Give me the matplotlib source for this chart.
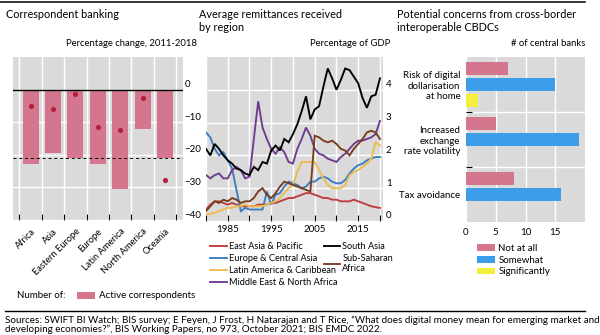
import matplotlib
matplotlib.use("Agg")
import matplotlib.pyplot as plt
from matplotlib.transforms import ScaledTranslation
from matplotlib.lines import Line2D
import numpy as np

plt.rcParams['font.family'] = ['Lato', 'DejaVu Sans']
plt.rcParams['axes.unicode_minus'] = True

# ---- Correspondent banking: percentage change 2011-2018 ----
regions = ["Africa", "Asia", "Eastern Europe", "Europe", "Latin America",
           "North America", "Oceania"]
active_correspondents = [-22.8, -19.3, -20.9, -22.8, -30.6, -12.0, -20.9]
corridors = [-5.0, -5.9, -1.4, -11.6, -12.4, -2.7, -27.7]
global_change = -21.0
pct_ticks = [-40, -30, -20, -10, 0]

# ---- Average remittances received by region, % of GDP ----
years = list(range(1980, 2021))
east_asia_pacific = [0.35, 0.5, 0.6, 0.6, 0.55, 0.5, 0.55, 0.5, 0.45, 0.45,
                     0.45, 0.45, 0.5, 0.5, 0.5, 0.55, 0.55, 0.6, 0.65, 0.7,
                     0.7, 0.75, 0.8, 0.85, 0.85, 0.8, 0.75, 0.7, 0.7, 0.65,
                     0.65, 0.6, 0.6, 0.6, 0.65, 0.6, 0.55, 0.5, 0.45, 0.42, 0.4]
europe_central_asia = [2.7, 2.55, 2.2, 2.0, 2.1, 1.85, 1.6, 0.95, 0.3, 0.4,
                       0.35, 0.35, 0.35, 0.35, 0.9, 0.5, 0.8, 0.85, 1.05, 1.2,
                       1.15, 1.1, 1.0, 1.05, 1.2, 1.2, 1.3, 1.35, 1.3, 1.2,
                       1.15, 1.15, 1.25, 1.45, 1.6, 1.7, 1.75, 1.85, 1.9, 1.95, 1.95]
latin_america_caribbean = [0.2, 0.22, 0.25, 0.3, 0.35, 0.4, 0.4, 0.45, 0.45, 0.5,
                           0.45, 0.45, 0.45, 0.45, 0.5, 0.55, 0.6, 0.7, 0.85, 1.0,
                           1.1, 1.5, 1.8, 1.8, 1.8, 1.8, 1.55, 1.3, 1.1, 1.0,
                           1.0, 1.0, 1.1, 1.4, 1.5, 1.55, 1.65, 1.75, 1.9, 2.4, 2.3]
middle_east_north_africa = [1.4, 1.3, 1.4, 1.45, 1.3, 1.3, 1.55, 1.65, 1.55, 1.3,
                            1.35, 2.5, 3.65, 2.85, 2.5, 2.2, 2.05, 2.25, 2.1, 1.8,
                            1.75, 2.2, 2.5, 2.85, 2.6, 2.2, 2.05, 2.0, 1.9, 1.85,
                            1.8, 1.95, 2.05, 2.2, 2.35, 2.45, 2.45, 2.5, 2.55, 2.65, 3.05]
south_asia = [2.2, 2.0, 2.35, 2.2, 2.0, 1.85, 1.75, 1.6, 1.55, 1.45,
              1.4, 1.65, 1.55, 1.8, 1.75, 2.15, 2.3, 2.15, 2.5, 2.4,
              2.65, 2.95, 3.35, 3.8, 3.1, 3.4, 3.5, 4.1, 4.65, 4.35,
              4.0, 4.3, 4.65, 4.6, 4.4, 4.2, 3.75, 3.45, 3.8, 3.85, 4.35]
sub_saharan_africa = [0.3, 0.45, 0.6, 0.55, 0.65, 0.6, 0.7, 0.65, 0.55, 0.6,
                      0.6, 0.7, 0.9, 1.0, 0.8, 0.7, 0.85, 1.05, 1.2, 1.15,
                      1.1, 1.05, 1.0, 0.95, 0.9, 2.6, 2.55, 2.45, 2.4, 2.45,
                      2.35, 2.2, 2.15, 2.0, 2.2, 2.35, 2.5, 2.7, 2.75, 2.7, 2.5]
year_ticks = list(range(1980, 2021, 5))
year_labels = ["", "1985", "", "1995", "", "2005", "", "2015", ""]
gdp_ticks = [0, 1, 2, 3, 4]

# ---- Potential concerns from cross-border interoperable CBDCs ----
concerns = ["Risk of digital\ndollarisation\nat home",
            "Increased\nexchange\nrate volatility",
            "Tax avoidance"]
not_at_all = [7, 5, 8]
somewhat = [15, 19, 16]
significantly = [2, 0, 0]
bank_ticks = [0, 5, 10, 15]

# ---- styling ----
W, H = 600, 335
GREY = "#dadada"
PINK = "#d5768f"
DOT = "#b3223d"
BLUE = "#3d9de9"
YELLOW = "#f4ee3c"
SERIES = [
    ("East Asia & Pacific", east_asia_pacific, "#bf3b3d"),
    ("Europe & Central Asia", europe_central_asia, "#3b7dbf"),
    ("Latin America & Caribbean", latin_america_caribbean, "#ebbc4e"),
    ("Middle East & North Africa", middle_east_north_africa, "#6e3c8c"),
    ("South Asia", south_asia, "#000000"),
    ("Sub-Saharan\nAfrica", sub_saharan_africa, "#7a3c1e"),
]
TICK_FS = 7
TITLE_FS = 7.8
UNIT_FS = 6.8
LEG_FS = 6.6
SRC_FS = 7.15


def rect(x0, y0, x1, y1):
    return [x0 / W, 1 - y1 / H, (x1 - x0) / W, (y1 - y0) / H]


def fx(px):
    return px / W


def fy(py):
    return 1 - py / H


def clean(ax):
    ax.set_facecolor(GREY)
    for s in ax.spines.values():
        s.set_visible(False)
    ax.set_axisbelow(True)


def lift_right_labels(ax, fig, dy_px=6):
    off = ScaledTranslation(0, dy_px / 100, fig.dpi_scale_trans)
    for t in ax.yaxis.get_major_ticks():
        t.label2.set_transform(t.label2.get_transform() + off)


fig = plt.figure(figsize=(W / 100, H / 100), dpi=100)

# ---------- panel 1 ----------
ax1 = fig.add_axes(rect(12.7, 57, 183, 220))
clean(ax1)
x = np.arange(len(regions))
bars1 = ax1.bar(x, active_correspondents, width=0.71, color=PINK, zorder=2,
                label="Active correspondents")
ax1.scatter(x, corridors, s=14, color=DOT, zorder=4, linewidths=0)
ax1.axhline(0, color="black", lw=1.0, zorder=3)
ax1.axhline(global_change, color="black", lw=0.7, ls=(0, (3, 3)), zorder=3)
ax1.set_xlim(-0.8, len(regions) - 0.2)
ax1.set_ylim(-40, 10)
ax1.set_xticks(x)
ax1.set_xticklabels(regions, rotation=45, ha="right", rotation_mode="anchor",
                    fontsize=TICK_FS - 0.3)
ax1.set_xticks(np.arange(-0.5, len(regions), 1), minor=True)
ax1.tick_params(axis="x", which="major", length=0, pad=5)
ax1.tick_params(axis="x", which="minor", length=4, width=0.8, direction="in",
                color="black", bottom=True)
ax1.grid(which="minor", axis="x", color="white", lw=1)
ax1.set_yticks(pct_ticks)
ax1.yaxis.tick_right()
ax1.tick_params(axis="y", length=0, pad=1, labelsize=TICK_FS)
ax1.grid(which="major", axis="y", color="white", lw=1)
lift_right_labels(ax1, fig)

# ---------- panel 2 ----------
ax2 = fig.add_axes(rect(206, 57, 383, 221))
clean(ax2)
handles2 = []
for name, vals, col in SERIES:
    ln, = ax2.plot(years, vals, color=col, lw=1.35, label=name,
                   solid_joinstyle="miter")
    handles2.append(ln)
ax2.set_xlim(1980, 2020.7)
ax2.set_ylim(0, 5)
ax2.set_xticks(year_ticks)
ax2.set_xticklabels(year_labels, fontsize=TICK_FS)
ax2.tick_params(axis="x", length=4, width=0.8, direction="in", color="black",
                pad=3)
ax2.grid(axis="x", color="white", lw=1)
ax2.set_yticks(gdp_ticks)
ax2.yaxis.tick_right()
ax2.tick_params(axis="y", length=0, pad=2, labelsize=TICK_FS)
ax2.grid(axis="y", color="white", lw=1)
lift_right_labels(ax2, fig)

# ---------- panel 3 ----------
ax3 = fig.add_axes(rect(466, 57, 585, 222))
clean(ax3)
yc = np.arange(len(concerns))
h3 = [
    ax3.barh(yc - 0.29, not_at_all, height=0.24, color=PINK, label="Not at all"),
    ax3.barh(yc, somewhat, height=0.24, color=BLUE, label="Somewhat"),
    ax3.barh(yc + 0.29, significantly, height=0.24, color=YELLOW,
             label="Significantly"),
]
ax3.set_xlim(0, 20)
ax3.set_ylim(len(concerns) - 0.5, -0.5)
ax3.set_yticks(yc)
ax3.set_yticklabels(concerns, fontsize=TICK_FS, linespacing=1.15)
ax3.set_yticks(np.arange(0.5, len(concerns) - 0.5, 1), minor=True)
ax3.tick_params(axis="y", which="major", length=0, pad=4)
ax3.tick_params(axis="y", which="minor", length=4, width=0.8, direction="in",
                color="black", left=True)
ax3.grid(which="minor", axis="y", color="white", lw=1)
ax3.set_xticks(bank_ticks)
ax3.tick_params(axis="x", length=0, pad=4, labelsize=TICK_FS)
ax3.grid(axis="x", color="white", lw=1)

# ---------- titles and units ----------
fig.text(fx(6), fy(14), "Correspondent banking", fontsize=TITLE_FS, va="center")
fig.text(fx(199), fy(21), "Average remittances received\nby region",
         fontsize=TITLE_FS, va="center", linespacing=1.25)
fig.text(fx(397), fy(21), "Potential concerns from cross-border\ninteroperable CBDCs",
         fontsize=TITLE_FS, va="center", linespacing=1.25)
fig.text(fx(197), fy(43), "Percentage change, 2011-2018", fontsize=UNIT_FS,
         ha="right", va="center")
fig.text(fx(390), fy(43), "Percentage of GDP", fontsize=UNIT_FS, ha="right",
         va="center")
fig.text(fx(585), fy(43), "# of central banks", fontsize=UNIT_FS, ha="right",
         va="center")

# ---------- legends ----------
fig.text(fx(17), fy(296), "Number of:", fontsize=LEG_FS + 0.4, va="center")
fig.legend(handles=[bars1], loc="center left", bbox_to_anchor=(fx(77), fy(296)),
           frameon=False, fontsize=LEG_FS + 0.4, handlelength=1.9,
           handleheight=0.7, handletextpad=0.4, borderpad=0, borderaxespad=0)

fig.legend(handles=handles2[:4], loc="upper left",
           bbox_to_anchor=(fx(210), fy(242)), frameon=False, fontsize=LEG_FS,
           handlelength=1.8, handletextpad=0.3, labelspacing=0.32,
           borderpad=0, borderaxespad=0)
fig.legend(handles=handles2[4:], loc="upper left",
           bbox_to_anchor=(fx(324), fy(242)), frameon=False, fontsize=LEG_FS,
           handlelength=1.7, handletextpad=0.3, labelspacing=0.32,
           borderpad=0, borderaxespad=0)

fig.legend(handles=h3, loc="upper left", bbox_to_anchor=(fx(477), fy(244)),
           frameon=False, fontsize=LEG_FS + 0.4, handlelength=1.8,
           handleheight=0.7, handletextpad=0.4, labelspacing=0.28,
           borderpad=0, borderaxespad=0)

# ---------- rules and sources ----------
fig.add_artist(Line2D([fx(0), fx(585)], [fy(2), fy(2)], color="black", lw=1.1,
                      transform=fig.transFigure))
fig.add_artist(Line2D([fx(5), fx(585)], [fy(311), fy(311)], color="black",
                      lw=1.0, transform=fig.transFigure))
fig.text(fx(5), fy(320.5),
         "Sources: SWIFT BI Watch; BIS survey; E Feyen, J Frost, H Natarajan and T Rice, "
         "\u201cWhat does digital money mean for emerging market and",
         fontsize=SRC_FS, va="center")
fig.text(fx(5), fy(334.5),
         "developing economies?\u201d, BIS Working Papers, no 973, October 2021; "
         "BIS EMDC 2022.",
         fontsize=SRC_FS, va="bottom")

fig.savefig("out.png", dpi=100)
